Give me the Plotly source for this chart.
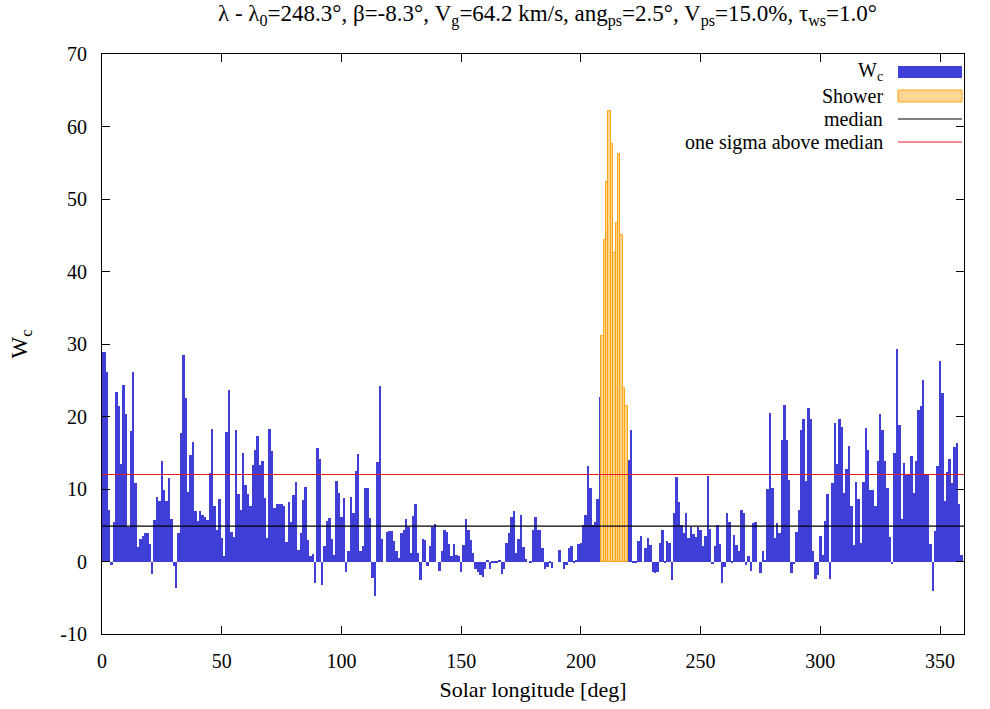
import plotly.graph_objects as go

# ---------------- data ----------------
lon = list(range(360))
wc_values = [
    28.9, 28.9, 26.1, 7.1, -0.5, 5.4, 23.4, 21.4, 13.5, 24.3,
    20.3, 4.8, 18.0, 26.1, 10.8, 2.0, 3.1, 3.5, 4.0, 4.0,
    2.4, -1.7, 5.7, 8.9, 8.4, 13.9, 9.9, 8.4, 11.5, 5.8,
    -0.6, -3.7, 4.0, 17.7, 28.5, 22.5, 9.6, 14.7, 16.5, 6.9,
    5.6, 6.9, 6.4, 6.2, 5.7, 12.2, 18.3, 7.7, 4.4, 8.6,
    3.2, 0.7, 17.9, 23.7, 4.1, 3.4, 18.1, 9.3, 7.1, 15.0,
    10.6, 9.3, 7.6, 13.3, 15.4, 17.3, 13.3, 13.9, 8.8, 3.3,
    18.3, 15.2, 7.4, 8.0, 8.0, 8.0, 7.6, 2.7, 8.2, 5.4,
    9.2, 11.0, 1.6, 4.0, 8.5, 10.3, 3.0, 0.7, 1.1, -2.9,
    15.7, 14.1, -3.2, 2.2, 5.6, 6.0, 3.1, 0.9, 11.1, 9.4,
    6.1, 8.7, -1.5, 1.5, 8.9, 6.7, 12.5, 14.8, 1.5, 2.1,
    10.2, 10.2, 6.0, -2.3, -4.8, 13.7, 24.2, 3.1, 0.0, 4.1,
    4.2, 4.2, 2.8, 1.5, 0.5, 4.0, 4.4, 5.9, 4.8, 1.2,
    6.3, 8.0, 1.2, -2.5, 3.1, 2.9, -0.6, 2.1, 4.7, 5.2,
    0.0, -1.3, 1.5, 4.4, 4.1, 2.4, 0.7, 2.4, 0.9, 0.8,
    -1.5, 2.3, 5.8, 4.3, 3.0, 1.2, -1.1, -1.4, -1.8, -2.1,
    -1.1, 0.2, -1.0, -0.1, -0.1, -0.1, 0.1, -1.7, -1.0, 2.5,
    3.9, 6.2, 6.9, 1.2, 3.1, 6.4, 2.0, 0.3, 0.0, -0.1,
    4.4, 6.1, 4.4, 4.3, 1.8, -1.1, -0.7, -0.1, -0.9, 0.0,
    0.0, 1.6, 0.0, -1.0, -0.5, 1.9, 2.2, -0.1, 0.1, 2.4,
    2.5, 5.0, 6.4, 13.2, 10.1, 5.0, 5.4, 8.6, 22.7, 31.1,
    44.4, 52.4, 62.1, 57.6, 42.5, 46.7, 56.2, 45.1, 23.9, 21.4,
    14.0, 18.2, -0.1, -0.2, 2.8, 3.5, 0.0, 1.8, 3.2, 2.3,
    -1.4, -1.6, -1.5, 2.5, 4.4, -0.2, 2.8, 2.5, -2.5, 6.7,
    11.6, 8.2, 5.1, 3.9, 6.7, 3.2, 4.7, 3.8, 3.4, 4.7,
    4.4, 2.2, 3.5, 11.8, 4.5, -0.3, 2.2, 5.0, 2.4, -2.9,
    -0.8, 6.7, 5.5, -0.1, 3.7, 2.3, 1.5, 7.1, 6.7, -0.5,
    0.7, -1.3, 5.3, 5.4, 0.0, -1.6, 1.5, 0.2, 10.0, 20.5,
    10.2, 3.2, 5.3, 3.9, 16.7, 21.6, 16.8, 11.3, -1.6, -0.4,
    4.1, 7.1, 18.2, 19.7, 11.1, 21.2, 19.6, 1.4, -2.4, -1.9,
    3.5, 0.9, 5.6, 9.3, -2.4, 10.8, 19.1, 13.5, 19.6, 18.5,
    9.5, 12.8, 15.9, 7.7, 2.3, 10.9, 8.6, 2.6, 11.0, 18.4,
    15.4, 9.9, 9.9, 7.7, 13.9, 20.4, 18.2, 13.8, 10.1, 3.4,
    -0.3, 14.9, 29.3, 18.8, 5.8, 13.6, 12.1, 12.0, 14.5, 9.5,
    13.9, 20.9, 21.4, 25.0, 12.1, 12.0, 2.4, -4.0, 4.2, 13.2,
    27.7, 23.3, 8.3, 12.3, 14.2, 10.8, 15.8, 16.3, 8.0, 0.9,
]
shower_lon = [209, 210, 211, 212, 213, 214, 215, 216, 217, 218, 219]
shower_values = [31.1, 44.4, 52.4, 62.1, 57.6, 42.5, 46.7, 56.2, 45.1, 23.9, 21.4]
median_value = 4.87
sigma_value = 12.0
x_ticks = [0, 50, 100, 150, 200, 250, 300, 350]
y_ticks = [-10, 0, 10, 20, 30, 40, 50, 60, 70]
y_tick_text = ["-10", "0", "10", "20", "30", "40", "50", "60", "70"]
legend_labels = ["W<sub>c</sub>", "Shower", "median", "one sigma above median"]

# ---------------- styling ----------------
W, H = 990, 709
L, R, T, B = 102, 26, 54, 75
PW, PH = W - L - R, H - T - B
FONT = "Liberation Serif"
BLUE = "#3f3fd8"
ORANGE_FILL = "#ffd591"
ORANGE_LINE = "#ffa514"
RED = "#e41a1a"


def px(xp):
    return (xp - L) / PW


def py(yp):
    return (H - B - yp) / PH


fig = go.Figure()
fig.add_trace(go.Bar(x=lon, y=wc_values, width=1.0,
                     marker=dict(color=BLUE, line=dict(width=0)),
                     showlegend=False))
fig.add_trace(go.Bar(x=shower_lon, y=shower_values, width=1.0,
                     marker=dict(color=ORANGE_FILL, line=dict(color=ORANGE_LINE, width=1)),
                     showlegend=False))

shapes = [
    dict(type="line", xref="x domain", yref="y", x0=0, x1=1, y0=median_value, y1=median_value,
         line=dict(color="black", width=1.2), layer="above"),
    dict(type="line", xref="x domain", yref="y", x0=0, x1=1, y0=sigma_value, y1=sigma_value,
         line=dict(color=RED, width=1.2), layer="above"),
]

# legend (drawn manually to mimic gnuplot key)
rows = [72, 96, 119, 142]
tx, s0, s1 = 885, 898, 962
annotations = []
for lab, ry in zip(legend_labels, rows):
    annotations.append(dict(text=lab, xref="paper", yref="paper", x=px(tx), y=py(ry),
                            xanchor="right", yanchor="middle", showarrow=False,
                            font=dict(family=FONT, size=20, color="black")))
shapes.append(dict(type="rect", xref="paper", yref="paper", x0=px(s0), x1=px(s1),
                   y0=py(rows[0] + 6), y1=py(rows[0] - 6), fillcolor=BLUE, line=dict(width=0)))
shapes.append(dict(type="rect", xref="paper", yref="paper", x0=px(s0), x1=px(s1),
                   y0=py(rows[1] + 6), y1=py(rows[1] - 6), fillcolor=ORANGE_FILL,
                   line=dict(color=ORANGE_LINE, width=1)))
shapes.append(dict(type="line", xref="paper", yref="paper", x0=px(s0), x1=px(s1),
                   y0=py(rows[2]), y1=py(rows[2]), line=dict(color="black", width=1.2)))
shapes.append(dict(type="line", xref="paper", yref="paper", x0=px(s0), x1=px(s1),
                   y0=py(rows[3]), y1=py(rows[3]), line=dict(color=RED, width=1.2)))

title_text = ("λ - λ<sub>0</sub>=248.3°, β=-8.3°, V<sub>g</sub>=64.2 km/s, "
              "ang<sub>ps</sub>=2.5°, V<sub>ps</sub>=15.0%, τ<sub>ws</sub>=1.0°")
annotations.append(dict(text=title_text, xref="paper", yref="paper", x=px(547), y=py(15),
                        xanchor="center", yanchor="middle", showarrow=False,
                        font=dict(family=FONT, size=23, color="black")))

axis_common = dict(showline=True, linecolor="black", linewidth=1.2, mirror="allticks",
                   ticks="inside", ticklen=8, tickcolor="black", tickwidth=1.2,
                   showgrid=False, zeroline=False,
                   tickfont=dict(family=FONT, size=20, color="black"))

fig.update_layout(
    width=W, height=H,
    margin=dict(l=L, r=R, t=T, b=B),
    paper_bgcolor="white", plot_bgcolor="white",
    barmode="overlay", bargap=0,
    shapes=shapes, annotations=annotations,
    font=dict(family=FONT),
    xaxis=dict(range=[0, 360], tickvals=x_ticks, ticklabelstandoff=9,
               title=dict(text="Solar longitude [deg]", font=dict(family=FONT, size=22, color="black"),
                          standoff=10),
               **axis_common),
    yaxis=dict(range=[-10, 70], tickvals=y_ticks, ticktext=y_tick_text, ticklabelstandoff=10,
               title=dict(text="W<sub>c</sub>", font=dict(family=FONT, size=23, color="black"),
                          standoff=26),
               **axis_common),
    showlegend=False,
)

fig.write_html("out.html")
